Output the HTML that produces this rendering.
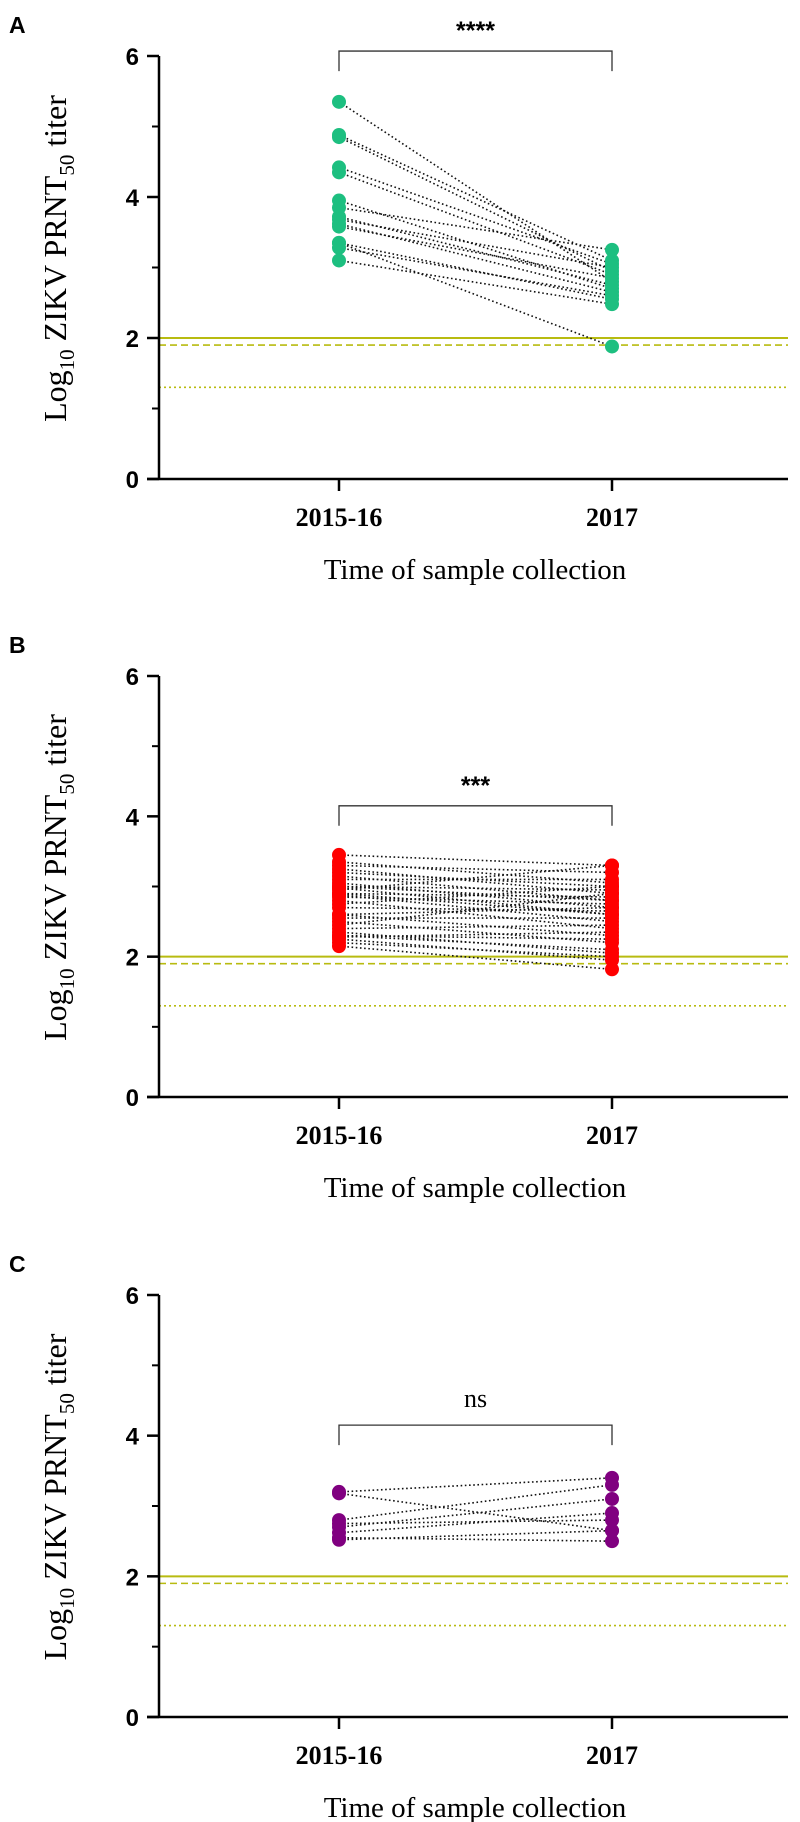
<!DOCTYPE html>
<html><head><meta charset="utf-8"><style>
html,body{margin:0;padding:0;background:#fff}
svg{display:block}
</style></head><body>
<svg id="fig" width="800" height="1822" xmlns="http://www.w3.org/2000/svg"></svg>
<script>
const categories = ["2015-16","2017"];
const yTicks = [0,2,4,6];
const refLines = [2.0,1.9,1.3];
const aBefore = [5.35,4.88,4.85,4.42,4.35,3.95,3.85,3.72,3.68,3.62,3.58,3.35,3.28,3.1,3.35];
const aAfter  = [2.8,3.1,2.95,3.05,2.9,2.7,3.25,2.75,3.0,2.65,2.85,2.55,2.6,2.48,1.88];
const bBefore = [3.45,3.35,3.3,3.25,3.2,3.15,3.1,3.05,3.0,2.98,2.95,2.9,2.88,2.85,2.8,2.75,2.7,2.6,2.55,2.5,2.45,2.4,2.35,2.3,2.28,2.25,2.2,2.15,3.0,2.9,2.6,2.3];
const bAfter  = [3.3,3.05,3.2,2.9,3.0,2.8,3.1,2.7,2.95,2.6,3.3,2.85,2.5,2.75,2.4,3.0,2.65,2.3,2.55,2.2,2.9,2.45,2.05,2.1,2.35,1.95,2.0,1.82,2.8,2.6,2.7,2.25];
const cBefore = [3.2,3.18,2.8,2.75,2.7,2.62,2.55,2.52];
const cAfter  = [3.4,2.65,3.3,2.8,3.1,2.9,2.5,2.65];
const panels = [
 {letter:"A", top:56, bottom:479, before:aBefore, after:aAfter, color:"#1dbf80", sig:"****", bracket:6.07, serif:false},
 {letter:"B", top:676, bottom:1097, before:bBefore, after:bAfter, color:"#ff0000", sig:"***", bracket:4.15, serif:false},
 {letter:"C", top:1295, bottom:1717, before:cBefore, after:cAfter, color:"#800080", sig:"ns", bracket:4.15, serif:true}
];
const NS="http://www.w3.org/2000/svg";
const svg=document.getElementById('fig');
function mk(tag,attrs,parent){const e=document.createElementNS(NS,tag);for(const k in attrs)e.setAttribute(k,attrs[k]);(parent||svg).appendChild(e);return e;}
const axisX=159, axisRight=788;
const catX=[339,612];
panels.forEach((p,pi)=>{
  const g=mk('g',{});
  
  
  const y=v=>p.bottom-(v/6)*(p.bottom-p.top);
  const lt=mk('text',{x:9,y:p.top-23,'font-family':'Liberation Sans, sans-serif','font-weight':'bold','font-size':23},g);
  lt.textContent=p.letter;
  
  
  refLines.forEach((r,i)=>{
    const l=mk('line',{x1:axisX,x2:axisRight,y1:y(r),y2:y(r),stroke:'#b8bb10','stroke-width':i==0?2:1.6,'stroke-dasharray':i==0?'none':(i==1?'7,4':'2,3')},g);
    
    
  });
  p.before.forEach((b,i)=>{
    const l=mk('line',{x1:catX[0],x2:catX[1],y1:y(b),y2:y(p.after[i]),stroke:'#111','stroke-width':1.6,'stroke-dasharray':'1.6,2.6'},g);
    
    
  });
  [p.before,p.after].forEach((arr,ci)=>{
    arr.forEach(v=>{
      const c=mk('circle',{cx:catX[ci],cy:y(v),r:7,fill:p.color},g);
      
      
    });
  });
  const ya=mk('line',{x1:axisX,x2:axisX,y1:p.top,y2:p.bottom,stroke:'#000','stroke-width':2.5},g);
  
  
  const xa=mk('line',{x1:axisX-12,x2:axisRight,y1:p.bottom,y2:p.bottom,stroke:'#000','stroke-width':2.5},g);
  
  
  for(let v=1;v<6;v+=2){mk('line',{x1:axisX-7,x2:axisX,y1:y(v),y2:y(v),stroke:'#000','stroke-width':2},g);}
  yTicks.forEach(v=>{
    mk('line',{x1:axisX-12,x2:axisX,y1:y(v),y2:y(v),stroke:'#000','stroke-width':2.5},g);
    const t=mk('text',{x:axisX-20,y:y(v)+9,'text-anchor':'end','font-family':'Liberation Sans, sans-serif','font-weight':'bold','font-size':24},g);
    t.textContent=v;
    
    
  });
  categories.forEach((c,i)=>{
    mk('line',{x1:catX[i],x2:catX[i],y1:p.bottom,y2:p.bottom+12,stroke:'#000','stroke-width':2.5},g);
    const t=mk('text',{x:catX[i],y:p.bottom+47,'text-anchor':'middle','font-family':'Liberation Serif, serif','font-weight':'bold','font-size':26},g);
    t.textContent=c;
    
    
  });
  const xt=mk('text',{x:475,y:p.bottom+100,'text-anchor':'middle','font-family':'Liberation Serif, serif','font-size':29},g);
  xt.textContent='Time of sample collection';
  
  
  const cy=(p.top+p.bottom)/2-9;
  const yt=mk('text',{x:0,y:0,transform:`translate(66,${cy}) rotate(-90)`,'text-anchor':'middle','font-family':'Liberation Serif, serif','font-size':32},g);
  yt.innerHTML='Log<tspan font-size="21" dy="8">10</tspan><tspan dy="-8"> ZIKV PRNT</tspan><tspan font-size="21" dy="8">50</tspan><tspan dy="-8"> titer</tspan>';
  
  
  const by=y(p.bracket);
  const br=mk('path',{d:`M${catX[0]},${by+20} V${by} H${catX[1]} V${by+20}`,fill:'none',stroke:'#333','stroke-width':1.3},g);
  
  
  const st=mk('text',{x:(catX[0]+catX[1])/2,y:by-(p.serif?18:12),'text-anchor':'middle','font-family':p.serif?'Liberation Serif, serif':'Liberation Sans, sans-serif','font-weight':p.serif?'normal':'bold','font-size':p.serif?26:25},g);
  st.textContent=p.sig;
  
  
});
</script>
</body></html>
